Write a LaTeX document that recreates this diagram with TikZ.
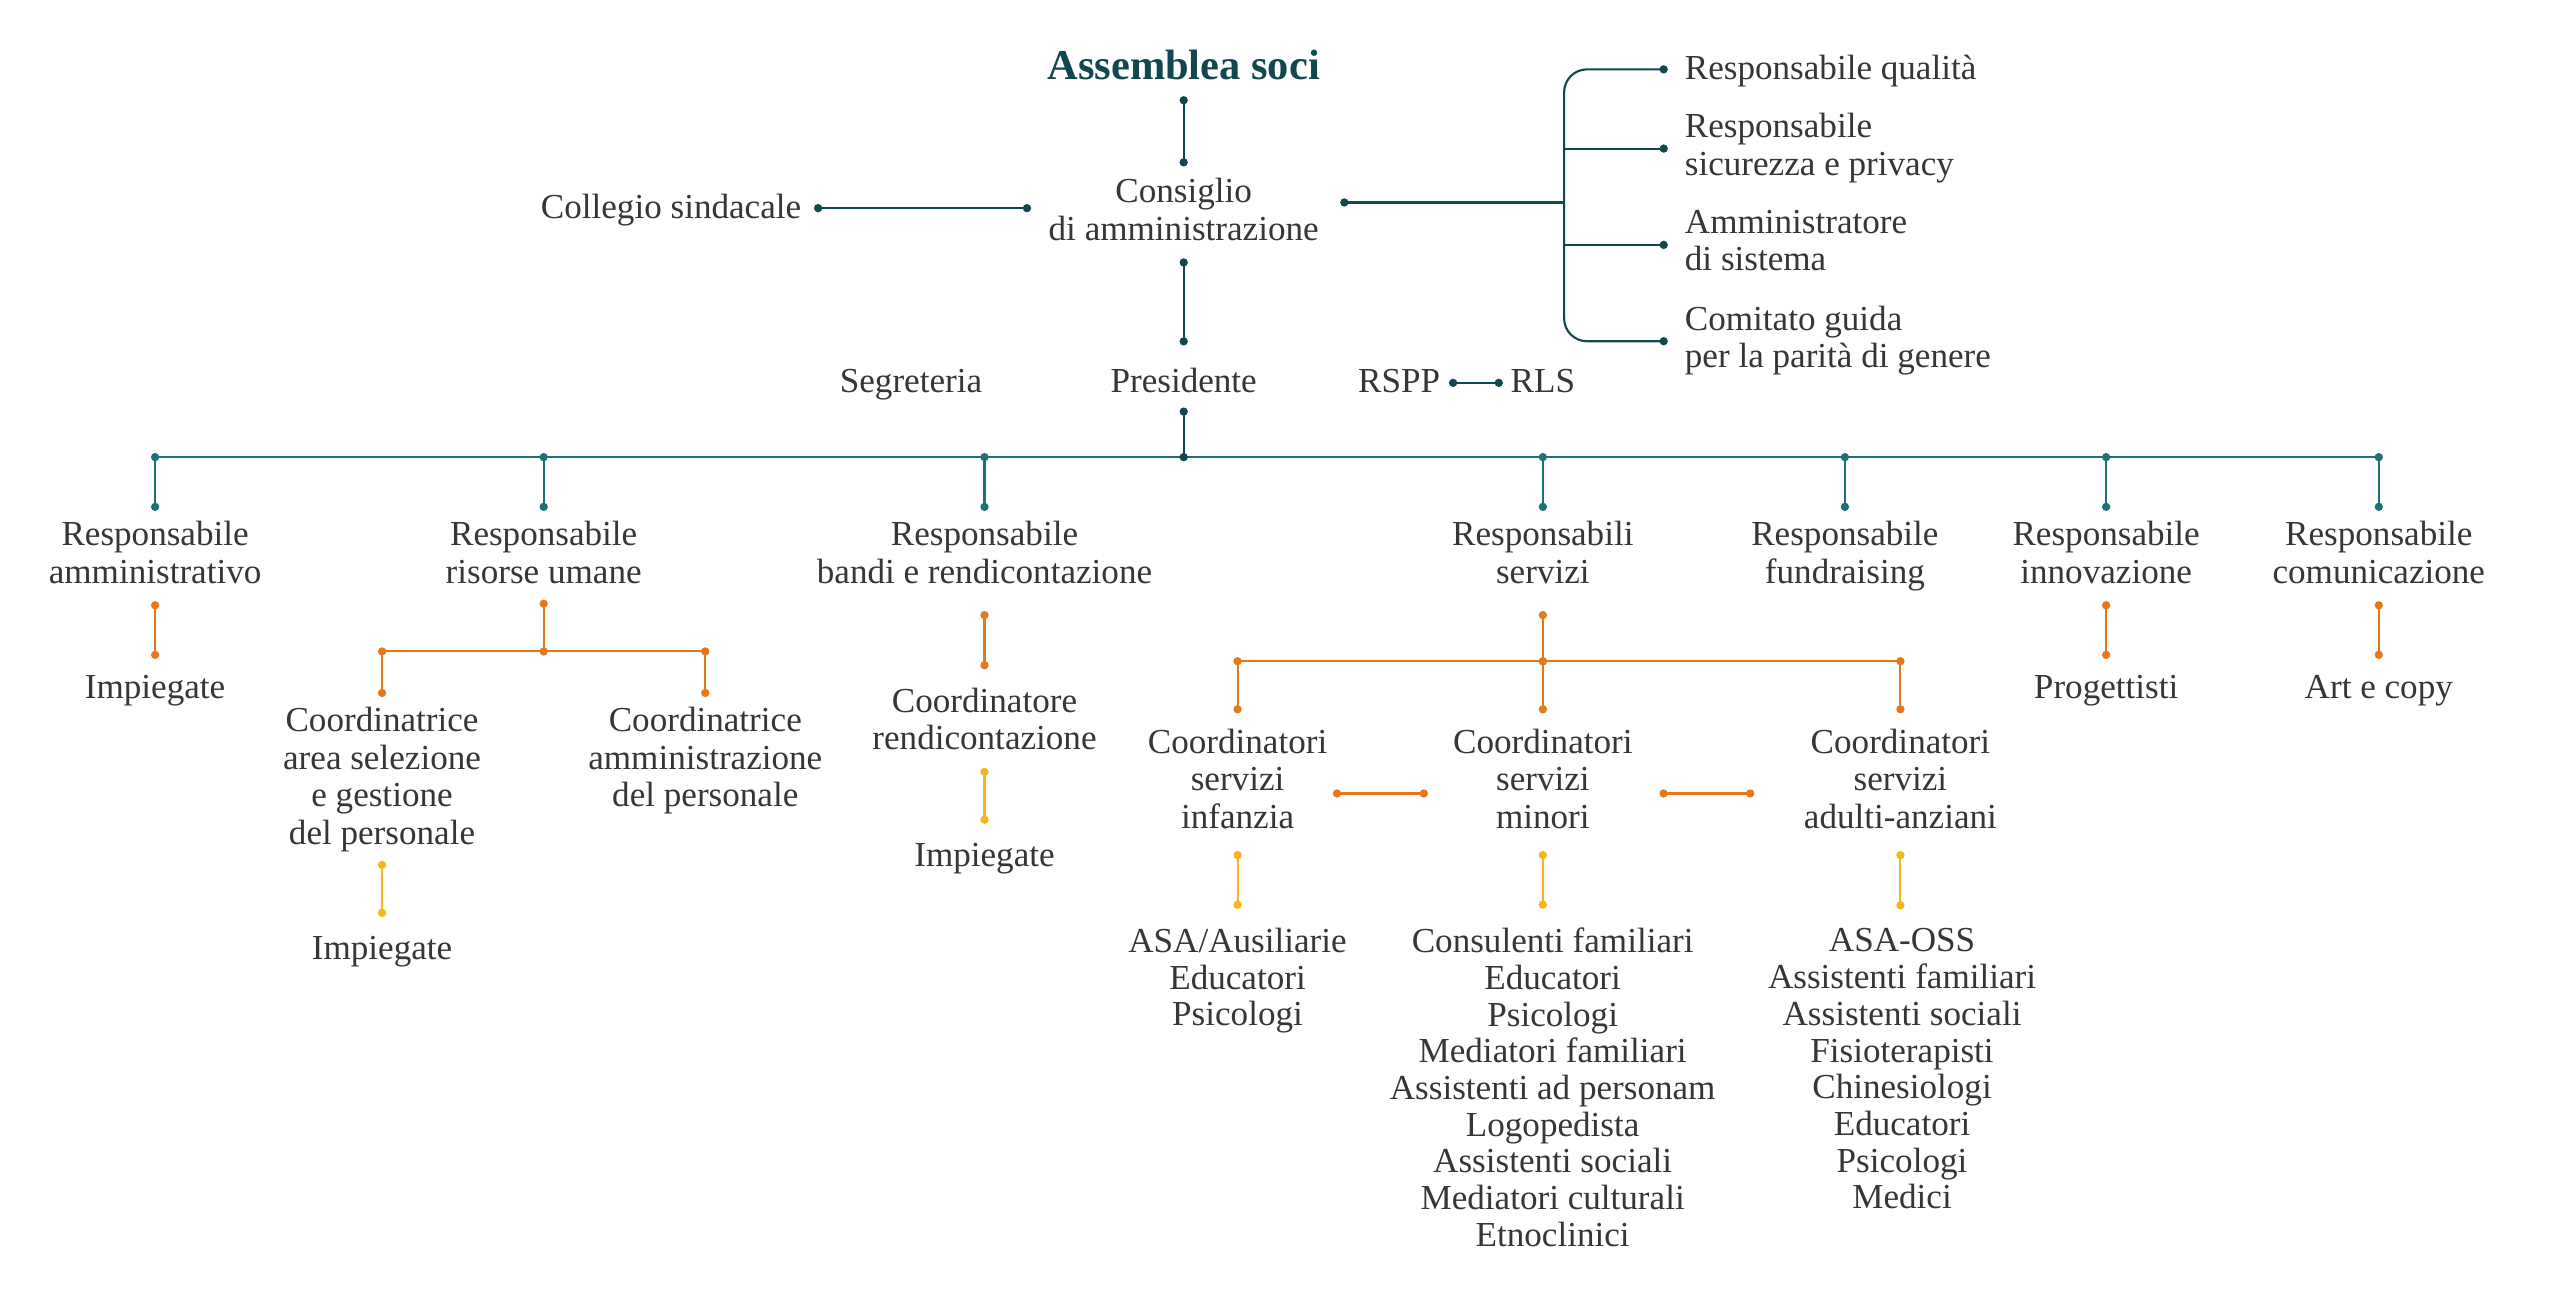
\documentclass[tikz,border=0pt]{standalone}
\usepackage{fontspec}
\setmainfont{Liberation Serif}
\usetikzlibrary{arrows.meta,calc}
\definecolor{txt}{HTML}{363636}
\definecolor{dkc}{HTML}{12474F}
\definecolor{tlc}{HTML}{1C7375}
\definecolor{orc}{HTML}{E5781C}
\definecolor{yec}{HTML}{F6B51B}
\newcommand{\mystrut}{\rule[-5.4pt]{0pt}{23pt}}
\newcommand{\mylstrut}{\rule[-5.25pt]{0pt}{22.5pt}}
\begin{document}
\begin{tikzpicture}[x=1pt,y=-1pt,
  >={Circle[length=5pt,width=5pt]},
  lbl/.style={inner sep=0pt,outer sep=0pt,align=center,text=txt,
    font=\fontsize{21.5}{23}\selectfont,
    execute at begin node=\mystrut,execute at end node=\mystrut},
  lst/.style={inner sep=0pt,outer sep=0pt,align=center,text=txt,
    font=\fontsize{21.5}{22.5}\selectfont,
    execute at begin node=\mylstrut,execute at end node=\mylstrut},
  lbll/.style={lbl,align=left,anchor=west},
  top/.style={inner sep=0pt,outer sep=0pt,text=dkc,
    font=\fontsize{26}{28}\selectfont\bfseries,
    execute at begin node=\strut},
  dkl/.style={draw=dkc,line width=1.3pt},
  tll/.style={draw=tlc,line width=1.3pt},
  orl/.style={draw=orc,line width=1.3pt},
  yel/.style={draw=yec,line width=1.3pt}]
\useasboundingbox (0,0) rectangle (1568,799.3);
\fill[white] (0,0) rectangle (1568,799.3);

% ---- top
\node[top] (assem) at (725,43) {Assemblea soci};
\node[lbl] (cda) at (725,131) {Consiglio\\di amministrazione};
\node[lbl] (coll) at (411,127.5) {Collegio sindacale};
\node[lbll] (rq) at (1032,42.5) {Responsabile qualità};
\node[lbll] (rs) at (1032,91) {Responsabile\\sicurezza e privacy};
\node[lbll] (ams) at (1032,150) {Amministratore\\di sistema};
\node[lbll] (cg) at (1032,209) {Comitato guida\\per la parità di genere};
\node[lbl] (seg) at (558,234.5) {Segreteria};
\node[lbl] (pres) at (725,234.5) {Presidente};
\node[lbl] (rspp) at (857,234.5) {RSPP};
\node[lbl] (rls) at (945,234.5) {RLS};

\coordinate (brk) at (958,124);
\coordinate (bus) at (725,280);

\draw[dkl,<->,shorten <=1.9pt,shorten >=7.4pt] (assem) -- (cda);
\draw[dkl,<->,shorten <=5.6pt,shorten >=11.4pt] (cda) -- (pres);
\draw[dkl,<->,shorten <=7.9pt,shorten >=10.8pt] (coll) -- (coll -| cda.west);
\draw[dkl,<-,shorten <=13.2pt] (cda.east |- brk) -- (brk);
\draw[dkl,<->,rounded corners=14pt,shorten <=10.5pt,shorten >=10.5pt]
  (rq.west) -| (brk) |- (cg.west);
\draw[dkl,->,shorten >=10.5pt] (brk |- rs.west) -- (rs.west);
\draw[dkl,->,shorten >=10.5pt] (brk |- ams.west) -- (ams.west);
\draw[dkl,<->,shorten <=5.4pt,shorten >=4.8pt] (rspp) -- (rls);

% ---- level 2
\node[lbl] (ramm) at (95,341) {Responsabile\\amministrativo};
\node[lbl] (rhr) at (333,341) {Responsabile\\risorse umane};
\node[lbl] (rban) at (603,341) {Responsabile\\bandi e rendicontazione};
\node[lbl] (rser) at (945,341) {Responsabili\\servizi};
\node[lbl] (rfun) at (1130,341) {Responsabile\\fundraising};
\node[lbl] (rinn) at (1290,341) {Responsabile\\innovazione};
\node[lbl] (rcom) at (1457,341) {Responsabile\\comunicazione};

\draw[tll] (ramm.north |- bus) -- (rcom.north |- bus);
\foreach \n in {ramm,rhr,rban,rser,rfun,rinn,rcom}
  \draw[tll,<->,shorten <=-2.5pt,shorten >=6.4pt] (\n.north |- bus) -- (\n.north);
\draw[dkl,<->,shorten <=3.6pt,shorten >=-2.5pt] (pres) -- (bus);

% ---- level 3
\node[lbl] (imp1) at (95,421.5) {Impiegate};
\node[lbl] (prog) at (1290,421.5) {Progettisti};
\node[lbl] (art) at (1457,421.5) {Art e copy};
\draw[orl,<->,shorten <=5.6pt,shorten >=6.4pt] (ramm) -- (imp1);
\draw[orl,<->,shorten <=5.6pt,shorten >=6.4pt] (rinn) -- (prog);
\draw[orl,<->,shorten <=5.6pt,shorten >=6.4pt] (rcom) -- (art);

% risorse umane
\coordinate (hrbus) at (333,399);
\node[lbl] (cs) at (234,478) {Coordinatrice\\area selezione\\e gestione\\del personale};
\node[lbl] (ca) at (432,466.5) {Coordinatrice\\amministrazione\\del personale};
\node[lbl] (imp2) at (234,581.5) {Impiegate};
\draw[orl,<->,shorten <=4.6pt,shorten >=-2.5pt] (rhr) -- (hrbus);
\draw[orl] (cs.north |- hrbus) -- (ca.north |- hrbus);
\draw[orl,<->,shorten <=-2.5pt,shorten >=6.4pt] (cs.north |- hrbus) -- (cs.north);
\draw[orl,<->,shorten <=-2.5pt,shorten >=6.4pt] (ca.north |- hrbus) -- (ca.north);
\draw[yel,<->,shorten <=4.6pt,shorten >=8.4pt] (cs) -- (imp2);

% bandi
\node[lbl] (crend) at (603,443) {Coordinatore\\rendicontazione};
\node[lbl] (imp3) at (603,524.5) {Impiegate};
\draw[orl,<->,shorten <=11.6pt,shorten >=11.4pt] (rban) -- (crend);
\draw[yel,<->,shorten <=5.6pt,shorten >=8.4pt] (crend) -- (imp3);

% servizi
\coordinate (sbus) at (945,405);
\node[lbl] (cinf) at (758,479.5) {Coordinatori\\servizi\\infanzia};
\node[lbl] (cmin) at (945,479.5) {Coordinatori\\servizi\\minori};
\node[lbl] (cadu) at (1164,479.5) {Coordinatori\\servizi\\adulti-anziani};
\draw[orl,<->,shorten <=11.6pt,shorten >=-2.5pt] (rser) -- (sbus);
\draw[orl] (cinf.north |- sbus) -- (cadu.north |- sbus);
\foreach \n in {cinf,cmin,cadu}
  \draw[orl,<->,shorten <=-2.5pt,shorten >=9.4pt] (\n.north |- sbus) -- (\n.north);
\draw[orl,<->,shorten <=3.5pt,shorten >=15.5pt] ([yshift=-6.5pt]cinf.east) -- ([yshift=-6.5pt]cmin.west);
\draw[orl,<->,shorten <=16.5pt,shorten >=30.4pt] ([yshift=-6.5pt]cmin.east) -- ([yshift=-6.5pt]cadu.west);

\node[lst] (linf) at (758,601) {ASA/Ausiliarie\\Educatori\\Psicologi};
\node[lst] (lmin) at (951,668.5) {Consulenti familiari\\Educatori\\Psicologi\\Mediatori familiari\\Assistenti ad personam\\Logopedista\\Assistenti sociali\\Mediatori culturali\\Etnoclinici};
\node[lst] (ladu) at (1165,657.25) {ASA-OSS\\Assistenti familiari\\Assistenti sociali\\Fisioterapisti\\Chinesiologi\\Educatori\\Psicologi\\Medici};
\draw[yel,<->,shorten <=8.6pt,shorten >=11.75pt] (cinf) -- (cinf |- linf.north);
\draw[yel,<->,shorten <=8.6pt,shorten >=11.75pt] (cmin) -- (cmin |- lmin.north);
\draw[yel,<->,shorten <=8.6pt,shorten >=11.75pt] (cadu) -- (cadu |- ladu.north);
\end{tikzpicture}
\end{document}
